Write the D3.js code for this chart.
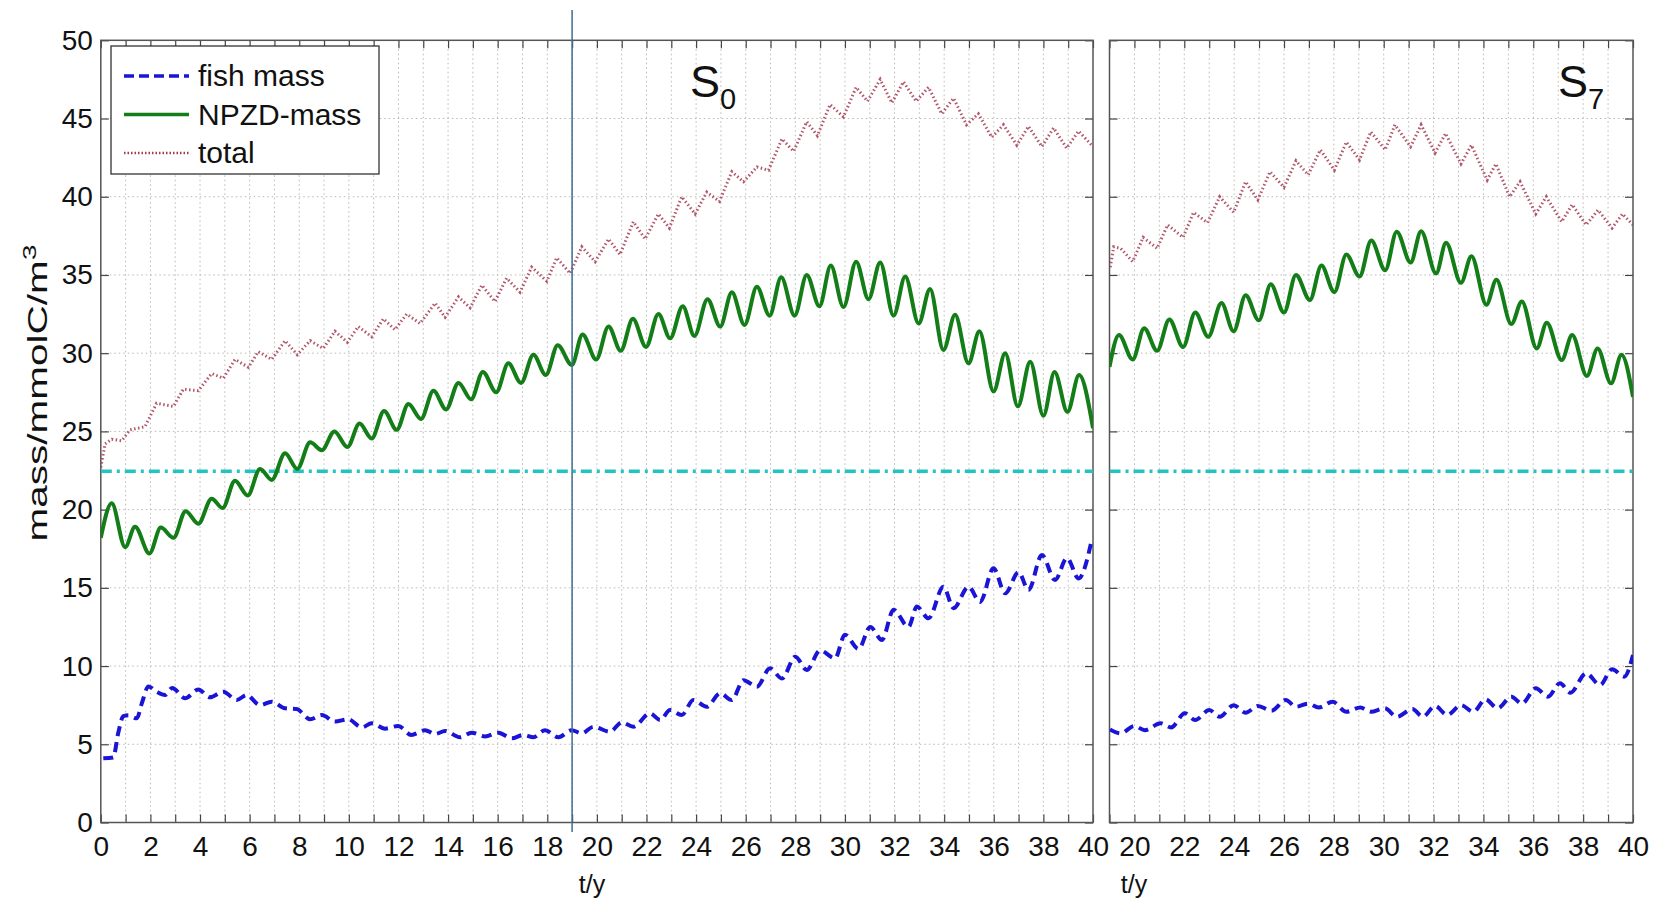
<!DOCTYPE html>
<html>
<head>
<meta charset="utf-8">
<script src="https://cdn.jsdelivr.net/npm/d3@7"></script>
<style>
  body { margin: 0; background: #fff; }
  text { font-family: "Liberation Sans", Arial, sans-serif; fill: #111; }
</style>
</head>
<body>
<div id="chart"></div>
<script>
// values (t in years, mass in mmolC/m^3)

const fishS0 = [[0.1,4.1],[0.5,4.15],[0.7,5.7],[0.91,6.8],[1.11,6.85],[1.45,6.66],[1.65,7.6],[1.92,8.7],[2.25,8.36],[2.59,8.15],[2.88,8.6],[3.4,7.94],[3.93,8.5],[4.4,8.0],[4.94,8.36],[5.48,7.83],[5.88,8.15],[6.42,7.5],[6.89,7.72],[7.43,7.3],[7.9,7.25],[8.44,6.6],[8.91,6.87],[9.44,6.45],[9.97,6.6],[10.52,6.08],[10.92,6.34],[11.46,6.0],[11.99,6.17],[12.52,5.6],[13.07,5.9],[13.48,5.66],[13.88,5.85],[14.48,5.45],[14.95,5.74],[15.49,5.5],[16.03,5.74],[16.57,5.38],[17.04,5.6],[17.44,5.45],[17.91,5.9],[18.45,5.45],[18.98,5.9],[19.39,5.7],[19.86,6.12],[20.53,5.8],[21.0,6.4],[21.47,6.12],[22.14,6.98],[22.55,6.55],[22.95,7.19],[23.42,6.87],[23.89,7.83],[24.43,7.4],[24.97,8.26],[25.44,7.83],[25.91,9.1],[26.45,8.68],[26.98,9.86],[27.46,9.2],[28.0,10.6],[28.46,9.75],[29.0,11.0],[29.6,10.5],[30.0,12.0],[30.55,11.1],[31.02,12.5],[31.49,11.67],[31.96,13.6],[32.56,12.5],[32.9,13.8],[33.37,13.05],[33.97,15.07],[34.38,13.7],[34.98,15.07],[35.45,14.1],[35.99,16.25],[36.46,14.65],[37.0,16.0],[37.4,14.86],[37.94,17.1],[38.47,15.5],[38.95,16.9],[39.42,15.6],[39.95,18.06]]

const npzdS0 = [[0,18.2],[0.44,20.4],[0.98,17.6],[1.38,18.9],[1.96,17.2],[2.42,18.85],[2.93,18.2],[3.42,19.9],[3.93,19.1],[4.47,20.7],[4.91,20.1],[5.41,21.85],[5.92,20.9],[6.42,22.6],[6.89,21.9],[7.43,23.6],[7.92,22.6],[8.44,24.3],[8.91,23.8],[9.42,25.0],[9.94,24.0],[10.43,25.5],[10.92,24.55],[11.42,26.3],[11.93,25.1],[12.4,26.75],[12.91,25.8],[13.41,27.6],[13.92,26.4],[14.42,28.1],[14.93,27.05],[15.4,28.8],[15.94,27.5],[16.43,29.35],[16.94,28.1],[17.44,29.9],[17.94,28.6],[18.42,30.5],[18.99,29.25],[19.42,31.2],[19.97,29.6],[20.47,31.7],[20.96,30.15],[21.45,32.2],[21.98,30.4],[22.48,32.5],[22.95,30.95],[23.46,33.0],[23.93,31.1],[24.46,33.45],[24.97,31.7],[25.44,33.9],[25.95,31.8],[26.45,34.25],[26.96,32.4],[27.43,34.85],[27.97,32.4],[28.46,35.0],[28.97,33.0],[29.43,35.6],[29.94,32.95],[30.45,35.85],[30.95,33.45],[31.42,35.8],[31.96,32.4],[32.43,34.9],[32.97,31.9],[33.43,34.1],[33.97,30.2],[34.44,32.45],[34.98,29.35],[35.42,31.4],[35.99,27.55],[36.46,30.0],[36.97,26.6],[37.47,29.45],[38.0,26.0],[38.45,28.8],[38.97,26.25],[39.44,28.6],[40,25.2]]

const totalS0 = [[0,22.7],[0.17,24.2],[0.44,24.5],[0.84,24.4],[1.18,25.1],[1.78,25.3],[2.25,26.8],[2.93,26.6],[3.33,27.7],[3.93,27.6],[4.47,28.7],[4.94,28.4],[5.41,29.6],[5.95,29.1],[6.35,30.1],[6.89,29.6],[7.43,30.8],[7.92,29.9],[8.44,30.8],[8.97,30.3],[9.44,31.4],[9.94,30.7],[10.38,31.7],[10.92,31.05],[11.39,32.2],[11.86,31.5],[12.33,32.5],[12.87,31.9],[13.48,33.2],[13.88,32.3],[14.42,33.6],[14.89,32.9],[15.36,34.35],[15.89,33.3],[16.36,34.8],[16.9,33.9],[17.37,35.5],[17.98,34.6],[18.38,36.1],[18.92,35.1],[19.39,36.8],[19.93,35.85],[20.47,37.3],[20.93,36.3],[21.47,38.4],[21.94,37.3],[22.48,38.9],[22.92,38.0],[23.42,40.0],[23.96,38.9],[24.43,40.3],[24.94,39.7],[25.44,41.6],[25.91,40.96],[26.45,41.9],[26.92,41.7],[27.46,43.7],[27.93,42.9],[28.46,44.8],[28.89,43.9],[29.4,45.9],[29.94,45.1],[30.45,47.0],[30.91,46.1],[31.42,47.5],[31.89,46.0],[32.36,47.35],[32.87,46.1],[33.37,47.0],[33.9,45.3],[34.38,46.3],[34.9,44.6],[35.38,45.3],[35.92,43.8],[36.39,44.6],[36.93,43.3],[37.4,44.5],[37.94,43.2],[38.41,44.4],[38.94,43.1],[39.42,44.2],[40,43.2]]

const fishS7 = [[19.02,5.95],[19.45,5.7],[20.0,6.17],[20.42,5.9],[21.05,6.34],[21.47,6.08],[22.02,6.98],[22.44,6.55],[23.0,7.19],[23.42,6.76],[23.98,7.5],[24.46,7.02],[24.95,7.45],[25.5,7.15],[26.07,7.83],[26.48,7.4],[26.97,7.6],[27.39,7.35],[27.95,7.72],[28.5,7.08],[29.06,7.35],[29.48,7.08],[30.04,7.3],[30.53,6.76],[31.15,7.25],[31.57,6.76],[32.06,7.45],[32.55,6.87],[33.1,7.5],[33.6,7.08],[34.08,7.87],[34.57,7.3],[35.12,8.04],[35.54,7.6],[36.1,8.58],[36.59,8.04],[37.07,8.9],[37.49,8.3],[38.12,9.54],[38.68,8.79],[39.16,9.8],[39.65,9.32],[40,10.7]]

const npzdS7 = [[19,29.13],[19.38,31.16],[19.93,29.6],[20.39,31.6],[20.91,30.15],[21.4,32.16],[21.95,30.4],[22.44,32.6],[22.96,31.05],[23.49,33.2],[23.98,31.4],[24.46,33.7],[24.99,32.1],[25.47,34.4],[26.0,32.6],[26.48,35.0],[27.04,33.4],[27.5,35.6],[28.02,33.9],[28.5,36.3],[29.03,34.9],[29.5,37.2],[30.06,35.3],[30.52,37.76],[31.08,35.8],[31.5,37.8],[32.1,35.1],[32.5,37.06],[33.1,34.5],[33.52,36.2],[34.12,33.1],[34.52,34.7],[35.12,31.86],[35.54,33.3],[36.14,30.3],[36.54,31.95],[37.14,29.56],[37.56,31.16],[38.15,28.54],[38.58,30.3],[39.12,28.07],[39.54,29.9],[40,27.2]]

const totalS7 = [[19.03,35.5],[19.17,36.8],[19.45,36.7],[19.93,35.85],[20.35,37.4],[20.91,36.7],[21.33,38.2],[21.95,37.4],[22.37,39.0],[22.93,38.34],[23.42,40.0],[23.98,39.0],[24.46,40.96],[24.95,39.8],[25.44,41.6],[26.0,40.6],[26.48,42.3],[26.97,41.4],[27.46,43.0],[28.02,41.7],[28.5,43.5],[29.03,42.35],[29.48,44.15],[30.06,43.0],[30.45,44.6],[31.08,43.2],[31.5,44.6],[32.06,42.8],[32.48,44.05],[33.1,42.1],[33.52,43.3],[34.15,41.07],[34.5,42.1],[35.05,40.0],[35.47,40.96],[36.1,38.9],[36.52,40.0],[37.14,38.4],[37.56,39.5],[38.12,38.2],[38.6,39.15],[39.16,38.0],[39.58,38.9],[40,38.2]]

const thresholdLevel = 22.45

const yTicks = d3.range(0, 51, 5)
const legendNames = ['fish mass', 'NPZD-mass', 'total']

// drawing
const W = 1664, H = 899
const svg = d3.select('#chart').append('svg')
  .attr('width', W).attr('height', H)

const y = d3.scaleLinear().domain([0, 50]).range([822.5, 40.3])

const panels = [
  { id: 'p0', x: d3.scaleLinear().domain([0, 40]).range([100.8, 1093]),
    fish: fishS0, npzd: npzdS0, total: totalS0, label: '0', yLabels: true,
    labelX: 690, tyX: 592 },
  { id: 'p7', x: d3.scaleLinear().domain([19, 40]).range([1109.5, 1633]),
    fish: fishS7, npzd: npzdS7, total: totalS7, label: '7', yLabels: false,
    labelX: 1558, tyX: 1134 }
]

const fishColor = '#1a14d6'
const npzdColor = '#137d17'
const totalColor = '#a3394f'
const cyan = '#22c3c3'

panels.forEach(function(p) {
  const x = p.x
  const [x0, x1] = x.range()
  const [t0, t1] = x.domain()
  const g = svg.append('g')

  g.append('clipPath').attr('id', 'clip-' + p.id)
    .append('rect').attr('x', x0).attr('y', y(50)).attr('width', x1 - x0).attr('height', y(0) - y(50))

  // grid
  const xs = d3.range(Math.ceil(t0), t1 + 0.001, 1)
  g.selectAll('.vgrid').data(xs.filter(d => d > t0 && d < t1)).enter()
    .append('line')
    .attr('x1', d => x(d)).attr('x2', d => x(d))
    .attr('y1', y(50)).attr('y2', y(0))
    .attr('stroke', '#b8b8b8').attr('stroke-width', 1)
    .attr('stroke-dasharray', '1.5,3')
  g.selectAll('.hgrid').data(yTicks.filter(d => d > 0 && d < 50)).enter()
    .append('line')
    .attr('x1', x0).attr('x2', x1)
    .attr('y1', d => y(d)).attr('y2', d => y(d))
    .attr('stroke', '#b8b8b8').attr('stroke-width', 1)
    .attr('stroke-dasharray', '1.5,3')

  // axes with inward ticks
  const bottom = g.append('g').attr('transform', 'translate(0,' + y(0) + ')')
    .call(d3.axisBottom(x).tickValues(xs).tickSize(-8).tickPadding(14)
      .tickFormat(d => d % 2 === 0 ? d : ''))
  bottom.selectAll('text').style('font-size', '28px').attr('fill', '#111')
  g.append('g').attr('transform', 'translate(0,' + y(50) + ')')
    .call(d3.axisTop(x).tickValues(xs).tickSize(-8).tickFormat(''))
  const left = g.append('g').attr('transform', 'translate(' + x0 + ',0)')
    .call(d3.axisLeft(y).tickValues(yTicks).tickSize(-8).tickPadding(8)
      .tickFormat(p.yLabels ? d3.format('d') : ''))
  left.selectAll('text').style('font-size', '28px').attr('fill', '#111')
  g.append('g').attr('transform', 'translate(' + x1 + ',0)')
    .call(d3.axisRight(y).tickValues(yTicks).tickSize(-8).tickFormat(''))
  g.selectAll('.domain').remove()
  g.selectAll('.tick line').attr('stroke', '#444').attr('stroke-width', 1.2)

  // frame
  g.append('rect').attr('x', x0).attr('y', y(50))
    .attr('width', x1 - x0).attr('height', y(0) - y(50))
    .attr('fill', 'none').attr('stroke', '#555').attr('stroke-width', 1.5)

  const plot = g.append('g').attr('clip-path', 'url(#clip-' + p.id + ')')

  // threshold
  plot.append('line')
    .attr('x1', x0).attr('x2', x1)
    .attr('y1', y(thresholdLevel)).attr('y2', y(thresholdLevel))
    .attr('stroke', cyan).attr('stroke-width', 3.5)
    .attr('stroke-dasharray', '11,5,3,5')

  const smooth = d3.line().x(d => x(d[0])).y(d => y(d[1])).curve(d3.curveMonotoneX)
  const straight = d3.line().x(d => x(d[0])).y(d => y(d[1]))

  plot.append('path').attr('d', straight(p.total))
    .attr('fill', 'none').attr('stroke', totalColor).attr('stroke-width', 3)
    .attr('stroke-dasharray', '1.5,2.5').attr('opacity', 0.85)
  plot.append('path').attr('d', smooth(p.npzd))
    .attr('fill', 'none').attr('stroke', npzdColor).attr('stroke-width', 4)
  plot.append('path').attr('d', smooth(p.fish))
    .attr('fill', 'none').attr('stroke', fishColor).attr('stroke-width', 4)
    .attr('stroke-dasharray', '10,6')

  // S label
  const s = g.append('text').attr('x', p.labelX).attr('y', 97).style('font-size', '45px')
  s.append('tspan').text('S')
  s.append('tspan').attr('dy', 12).style('font-size', '29px').text(p.label)

  g.append('text').attr('x', p.tyX).attr('y', 893).attr('text-anchor', 'middle')
    .style('font-size', '25px').text('t/y')
})

// marker line at t = 19 in the left panel
const xl = panels[0].x
svg.append('line').attr('x1', xl(19)).attr('x2', xl(19)).attr('y1', 10).attr('y2', 832)
  .attr('stroke', '#3f6d94').attr('stroke-width', 1.5)

// y label (stretched along its length like the original)
const yl = svg.append('text')
  .attr('transform', 'translate(47,393) rotate(-90) scale(1.5,1)')
  .attr('text-anchor', 'middle').style('font-size', '27px')
yl.append('tspan').text('mass/mmolC/m')
yl.append('tspan').attr('dy', -11).style('font-size', '19px').text('3')

// legend
const lg = svg.append('g')
lg.append('rect').attr('x', 111).attr('y', 46).attr('width', 268).attr('height', 128)
  .attr('fill', '#fff').attr('stroke', '#333').attr('stroke-width', 1.3)
const legendStyles = [
  { color: fishColor, dash: '10,5', w: 3.5 },
  { color: npzdColor, dash: null, w: 3.5 },
  { color: totalColor, dash: '1.5,2', w: 2.5 }
]
legendNames.forEach(function(name, i) {
  const by = 86 + i * 38.5
  lg.append('line').attr('x1', 124).attr('x2', 189).attr('y1', by - 10).attr('y2', by - 10)
    .attr('stroke', legendStyles[i].color).attr('stroke-width', legendStyles[i].w)
    .attr('stroke-dasharray', legendStyles[i].dash)
  lg.append('text').attr('x', 198).attr('y', by).style('font-size', '30px').text(name)
})
</script>
</body>
</html>
